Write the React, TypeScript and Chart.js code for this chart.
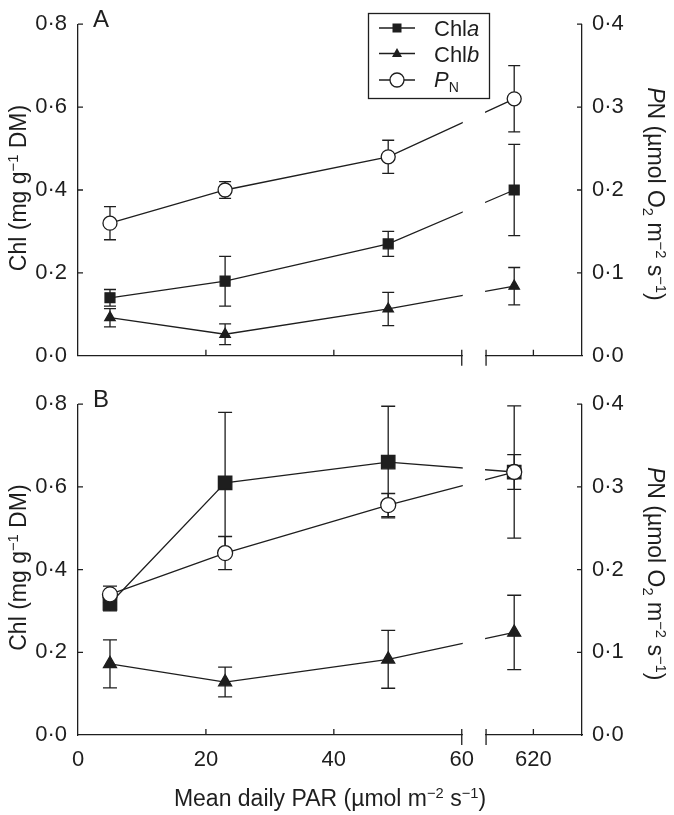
import React, { useEffect, useRef } from 'react';
import { Chart, registerables } from 'chart.js';
Chart.register(...registerables);

// ---------------- data ----------------
const PAR = [5, 23, 48.5, 617];
const X_TICK_VALUES = [0, 20, 40, 60, 620];
const CHL_TICKS = [0, 0.2, 0.4, 0.6, 0.8];
const PN_TICKS = [0, 0.1, 0.2, 0.3, 0.4];

const CHLA_A = [0.14, 0.18, 0.27, 0.4];
const CHLA_A_ERR = [0.02, 0.06, 0.03, 0.11];
const CHLB_A = [0.092, 0.052, 0.113, 0.168];
const CHLB_A_ERR = [0.022, 0.025, 0.04, 0.045];
const PN_A = [0.16, 0.2, 0.24, 0.31];
const PN_A_ERR = [0.02, 0.01, 0.02, 0.04];

const CHLA_B = [0.318, 0.61, 0.66, 0.636];
const CHLA_B_ERR = [0.018, 0.17, 0.135, 0.16];
const CHLB_B = [0.172, 0.128, 0.183, 0.248];
const CHLB_B_ERR = [0.058, 0.036, 0.07, 0.09];
const PN_B = [0.17, 0.22, 0.278, 0.318];
const PN_B_ERR = [0.01, 0.02, 0.014, 0.021];

// ---------------- broken x axis ----------------
const LOW_END = 60;
const GAP_END = 63.8;
const HIGH_TICK_POS = 71.2;
const AXIS_MAX = 78.8;
function toAxis(v: number) {
  return v <= LOW_END ? v : v - 620 + HIGH_TICK_POS;
}

// ---------------- styles ----------------
const INK = '#1e1e1e';
const FAMILY = '"Liberation Sans", Arial, Helvetica, sans-serif';
const TICK_SIZE = 22;
const TITLE_SIZE = 23;
const LEGEND_SIZE = 22;
const LW = 1.3;

type Seg = { t: string; italic?: boolean; sub?: boolean; sup?: boolean };

function fontOf(size: number, italic?: boolean) {
  return `${italic ? 'italic ' : ''}${size}px ${FAMILY}`;
}
function segSize(s: Seg, size: number) {
  return s.sub || s.sup ? size * 0.64 : size;
}
function measureRich(ctx: CanvasRenderingContext2D, segs: Seg[], size: number) {
  let w = 0;
  for (const s of segs) {
    ctx.font = fontOf(segSize(s, size), s.italic);
    w += ctx.measureText(s.t).width;
  }
  return w;
}
function drawRich(
  ctx: CanvasRenderingContext2D,
  segs: Seg[],
  x: number,
  y: number,
  size: number,
  rot: number,
  align: 'center' | 'left'
) {
  ctx.save();
  ctx.translate(x, y);
  ctx.rotate(rot);
  ctx.textBaseline = 'alphabetic';
  ctx.textAlign = 'left';
  ctx.fillStyle = INK;
  const w = measureRich(ctx, segs, size);
  let cx = align === 'center' ? -w / 2 : 0;
  for (const s of segs) {
    const sz = segSize(s, size);
    ctx.font = fontOf(sz, s.italic);
    const dy = s.sup ? -size * 0.36 : s.sub ? size * 0.22 : 0;
    ctx.fillText(s.t, cx, dy);
    cx += ctx.measureText(s.t).width;
  }
  ctx.restore();
}

const CHL_TITLE: Seg[] = [
  { t: 'Chl (mg g' },
  { t: '\u22121', sup: true },
  { t: ' DM)' },
];
const PN_TITLE: Seg[] = [
  { t: 'P', italic: true },
  { t: 'N (\u00B5mol O' },
  { t: '2', sub: true },
  { t: ' m' },
  { t: '\u22122', sup: true },
  { t: ' s' },
  { t: '\u22121', sup: true },
  { t: ')' },
];
const X_TITLE: Seg[] = [
  { t: 'Mean daily PAR (\u00B5mol m' },
  { t: '\u22122', sup: true },
  { t: ' s' },
  { t: '\u22121', sup: true },
  { t: ')' },
];

function fmtTick(v: number) {
  return v.toFixed(1).replace('.', '\u00B7');
}

type Panel = {
  letter: string;
  chla: number[];
  chlaErr: number[];
  chlb: number[];
  chlbErr: number[];
  pn: number[];
  pnErr: number[];
  showX: boolean;
  legend: boolean;
  areaTop: number;
  xHeight: number;
  rSq: number;
  rTri: number;
  rCirc: number;
  cap: number;
};

const PANEL_A: Panel = {
  letter: 'A',
  chla: CHLA_A,
  chlaErr: CHLA_A_ERR,
  chlb: CHLB_A,
  chlbErr: CHLB_A_ERR,
  pn: PN_A,
  pnErr: PN_A_ERR,
  showX: false,
  legend: true,
  areaTop: 24,
  xHeight: 21,
  rSq: 7,
  rTri: 6,
  rCirc: 7,
  cap: 6,
};
const PANEL_B: Panel = {
  letter: 'B',
  chla: CHLA_B,
  chlaErr: CHLA_B_ERR,
  chlb: CHLB_B,
  chlbErr: CHLB_B_ERR,
  pn: PN_B,
  pnErr: PN_B_ERR,
  showX: true,
  legend: false,
  areaTop: 19,
  xHeight: 80,
  rSq: 9.5,
  rTri: 7.5,
  rCirc: 7.5,
  cap: 7,
};

function makeChart(canvas: HTMLCanvasElement, p: Panel) {
  const pts = (vals: number[]) => PAR.map((x, i) => ({ x: toAxis(x), y: vals[i] }));
  const series = [
    { values: p.pn, errs: p.pnErr, axis: 'y2' },
    { values: p.chla, errs: p.chlaErr, axis: 'y' },
    { values: p.chlb, errs: p.chlbErr, axis: 'y' },
  ];

  const plugin = {
    id: 'panelDeco' + p.letter,
    beforeDatasetsDraw(chart: any) {
      const ctx: CanvasRenderingContext2D = chart.ctx;
      const xs = chart.scales.x;
      ctx.save();
      ctx.strokeStyle = INK;
      ctx.lineWidth = LW;
      for (const s of series) {
        const ys = chart.scales[s.axis];
        s.values.forEach((v, i) => {
          const e = s.errs[i];
          const px = xs.getPixelForValue(toAxis(PAR[i]));
          const top = ys.getPixelForValue(v + e);
          const bot = ys.getPixelForValue(v - e);
          ctx.beginPath();
          ctx.moveTo(px, top);
          ctx.lineTo(px, bot);
          ctx.moveTo(px - p.cap, top);
          ctx.lineTo(px + p.cap, top);
          ctx.moveTo(px - p.cap, bot);
          ctx.lineTo(px + p.cap, bot);
          ctx.stroke();
        });
      }
      ctx.restore();
    },
    afterDatasetsDraw(chart: any) {
      const ctx: CanvasRenderingContext2D = chart.ctx;
      const a = chart.chartArea;
      const xs = chart.scales.x;
      const yl = chart.scales.y;
      const yr = chart.scales.y2;
      const g0 = xs.getPixelForValue(LOW_END);
      const g1 = xs.getPixelForValue(GAP_END);
      ctx.save();
      // axis break gap
      ctx.fillStyle = '#ffffff';
      ctx.fillRect(g0 + 1, a.top - 2, g1 - g0 - 2, a.bottom - a.top + 5);
      ctx.strokeStyle = INK;
      ctx.lineWidth = LW;
      ctx.beginPath();
      for (const gx of [g0, g1]) {
        ctx.moveTo(gx, a.bottom - 6);
        ctx.lineTo(gx, a.bottom + 10);
      }
      // inward x ticks
      for (const v of [20, 40, 620]) {
        const px = xs.getPixelForValue(toAxis(v));
        ctx.moveTo(px, a.bottom);
        ctx.lineTo(px, a.bottom - 6);
      }
      // inward y ticks
      for (const v of CHL_TICKS) {
        if (v === 0) continue;
        const py = yl.getPixelForValue(v);
        ctx.moveTo(a.left, py);
        ctx.lineTo(a.left + 5, py);
      }
      for (const v of PN_TICKS) {
        if (v === 0) continue;
        const py = yr.getPixelForValue(v);
        ctx.moveTo(a.right, py);
        ctx.lineTo(a.right - 5, py);
      }
      ctx.stroke();
      ctx.restore();
    },
    afterDraw(chart: any) {
      const ctx: CanvasRenderingContext2D = chart.ctx;
      const a = chart.chartArea;
      const cy = (a.top + a.bottom) / 2;
      drawRich(ctx, CHL_TITLE, 26, cy - 2, TITLE_SIZE, -Math.PI / 2, 'center');
      drawRich(ctx, PN_TITLE, 648, cy + 4, TITLE_SIZE, Math.PI / 2, 'center');
      if (p.showX) {
        drawRich(ctx, X_TITLE, (a.left + a.right) / 2, a.bottom + 71, TITLE_SIZE, 0, 'center');
      }
      // panel letter
      ctx.save();
      ctx.fillStyle = INK;
      ctx.font = fontOf(24);
      ctx.textBaseline = 'alphabetic';
      ctx.fillText(p.letter, 93, a.top + 3);
      ctx.restore();

      if (p.legend) {
        ctx.save();
        ctx.strokeStyle = INK;
        ctx.fillStyle = INK;
        ctx.lineWidth = LW;
        ctx.strokeRect(368.5, 13.5, 121, 85);
        const rows = [28, 53.5, 80];
        const lx0 = 379;
        const lx1 = 415;
        const mx = 397;
        rows.forEach((ry, k) => {
          ctx.beginPath();
          ctx.moveTo(lx0, ry);
          ctx.lineTo(lx1, ry);
          ctx.stroke();
          if (k === 0) {
            ctx.fillRect(mx - 4.5, ry - 4.5, 9, 9);
          } else if (k === 1) {
            ctx.beginPath();
            ctx.moveTo(mx, ry - 5.5);
            ctx.lineTo(mx + 5, ry + 3.5);
            ctx.lineTo(mx - 5, ry + 3.5);
            ctx.closePath();
            ctx.fill();
          } else {
            ctx.beginPath();
            ctx.arc(mx, ry, 7, 0, Math.PI * 2);
            ctx.fillStyle = '#ffffff';
            ctx.fill();
            ctx.stroke();
            ctx.fillStyle = INK;
          }
        });
        const tx = 434;
        drawRich(ctx, [{ t: 'Chl' }, { t: 'a', italic: true }], tx, rows[0] + 8, LEGEND_SIZE, 0, 'left');
        drawRich(ctx, [{ t: 'Chl' }, { t: 'b', italic: true }], tx, rows[1] + 8, LEGEND_SIZE, 0, 'left');
        drawRich(ctx, [{ t: 'P', italic: true }, { t: 'N', sub: true }], tx, rows[2] + 7, LEGEND_SIZE, 0, 'left');
        ctx.restore();
      }
    },
  };

  const common = {
    type: 'line',
    showLine: true,
    fill: false,
    tension: 0,
    borderColor: INK,
    borderWidth: LW,
    pointBorderColor: INK,
    pointBorderWidth: LW,
  };

  return new Chart(canvas, {
    type: 'line',
    data: {
      datasets: [
        {
          ...common,
          label: 'PN',
          data: pts(p.pn),
          yAxisID: 'y2',
          pointStyle: 'circle',
          pointRadius: p.rCirc,
          pointBackgroundColor: '#ffffff',
          backgroundColor: '#ffffff',
          order: 0,
        },
        {
          ...common,
          label: 'Chla',
          data: pts(p.chla),
          yAxisID: 'y',
          pointStyle: 'rect',
          pointRadius: p.rSq,
          pointBackgroundColor: INK,
          backgroundColor: INK,
          order: 1,
        },
        {
          ...common,
          label: 'Chlb',
          data: pts(p.chlb),
          yAxisID: 'y',
          pointStyle: 'triangle',
          pointRadius: p.rTri,
          pointBackgroundColor: INK,
          backgroundColor: INK,
          order: 2,
        },
      ],
    } as any,
    options: {
      responsive: false,
      maintainAspectRatio: false,
      animation: false,
      devicePixelRatio: 1,
      layout: { padding: { top: p.areaTop, left: 0, right: 0, bottom: 0 } },
      plugins: { legend: { display: false }, tooltip: { enabled: false } },
      scales: {
        x: {
          type: 'linear',
          min: 0,
          max: AXIS_MAX,
          afterBuildTicks: (s: any) => {
            s.ticks = X_TICK_VALUES.map((v) => ({ value: toAxis(v) }));
          },
          afterFit: (s: any) => {
            s.height = p.xHeight;
          },
          ticks: {
            display: p.showX,
            autoSkip: false,
            maxRotation: 0,
            padding: 12,
            color: INK,
            font: { family: FAMILY, size: TICK_SIZE },
            callback: (_v: any, i: number) => String(X_TICK_VALUES[i]),
          },
          grid: { display: false, drawTicks: false },
          border: { display: true, color: INK, width: LW },
        },
        y: {
          type: 'linear',
          position: 'left',
          min: 0,
          max: 0.8,
          afterBuildTicks: (s: any) => {
            s.ticks = CHL_TICKS.map((v) => ({ value: v }));
          },
          afterFit: (s: any) => {
            s.width = 78;
          },
          ticks: {
            padding: 11,
            color: INK,
            font: { family: FAMILY, size: TICK_SIZE },
            callback: (v: any) => fmtTick(Number(v)),
          },
          grid: { display: false, drawTicks: false },
          border: { display: true, color: INK, width: LW },
        },
        y2: {
          type: 'linear',
          position: 'right',
          min: 0,
          max: 0.4,
          afterBuildTicks: (s: any) => {
            s.ticks = PN_TICKS.map((v) => ({ value: v }));
          },
          afterFit: (s: any) => {
            s.width = 92;
          },
          ticks: {
            padding: 10,
            color: INK,
            font: { family: FAMILY, size: TICK_SIZE },
            callback: (v: any) => fmtTick(Number(v)),
          },
          grid: { display: false, drawTicks: false },
          border: { display: true, color: INK, width: LW },
        },
      },
    } as any,
    plugins: [plugin],
  });
}

export default function App() {
  const refA = useRef<HTMLCanvasElement>(null);
  const refB = useRef<HTMLCanvasElement>(null);
  useEffect(() => {
    const a = makeChart(refA.current as HTMLCanvasElement, PANEL_A);
    const b = makeChart(refB.current as HTMLCanvasElement, PANEL_B);
    return () => {
      a.destroy();
      b.destroy();
    };
  }, []);
  return (
    <div style={{ position: 'absolute', left: 0, top: 0, width: 674, height: 815, background: '#ffffff' }}>
      <canvas
        ref={refA}
        width={674}
        height={380}
        style={{ position: 'absolute', left: 0, top: 0, width: 674, height: 380 }}
      />
      <canvas
        ref={refB}
        width={674}
        height={435}
        style={{ position: 'absolute', left: 0, top: 380, width: 674, height: 435 }}
      />
    </div>
  );
}
